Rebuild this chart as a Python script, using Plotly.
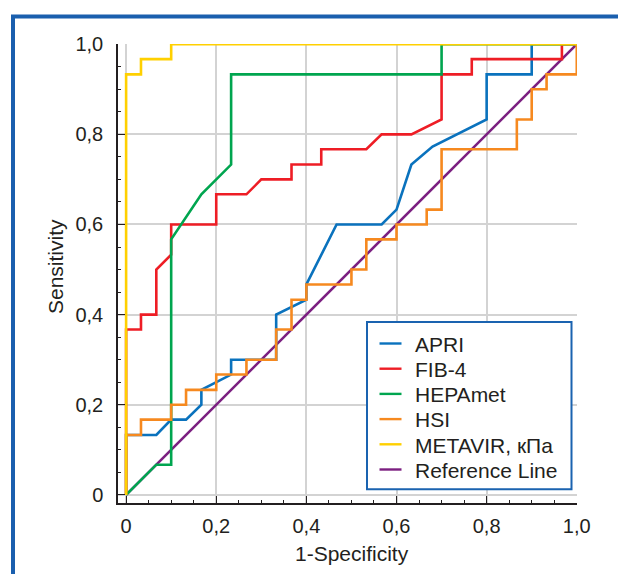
import plotly.graph_objects as go

# ---- data ----
apri_x = [0, 0, 0.067, 0.1, 0.133, 0.167, 0.167, 0.233, 0.233, 0.267, 0.333, 0.333, 0.4, 0.4, 0.467, 0.567, 0.6, 0.633, 0.68, 0.8, 0.8, 0.9, 0.9, 1.0]
apri_y = [0, 0.133, 0.133, 0.167, 0.167, 0.2, 0.233, 0.267, 0.3, 0.3, 0.3, 0.4, 0.433, 0.467, 0.6, 0.6, 0.633, 0.733, 0.773, 0.833, 0.933, 0.933, 1.0, 1.0]

fib4_x = [0, 0, 0.033, 0.033, 0.067, 0.067, 0.1, 0.1, 0.2, 0.2, 0.267, 0.3, 0.367, 0.367, 0.433, 0.433, 0.533, 0.567, 0.633, 0.7, 0.7, 0.767, 0.767, 0.967, 0.967, 1.0]
fib4_y = [0, 0.367, 0.367, 0.4, 0.4, 0.5, 0.533, 0.6, 0.6, 0.667, 0.667, 0.7, 0.7, 0.733, 0.733, 0.767, 0.767, 0.8, 0.8, 0.833, 0.933, 0.933, 0.967, 0.967, 1.0, 1.0]

hepamet_x = [0, 0.067, 0.1, 0.1, 0.167, 0.233, 0.233, 0.7, 0.7, 1.0]
hepamet_y = [0, 0.067, 0.067, 0.567, 0.667, 0.733, 0.933, 0.933, 1.0, 1.0]

hsi_x = [0, 0, 0.033, 0.033, 0.1, 0.1, 0.133, 0.133, 0.2, 0.2, 0.267, 0.267, 0.333, 0.333, 0.367, 0.367, 0.4, 0.4, 0.5, 0.5, 0.533, 0.533, 0.6, 0.6, 0.667, 0.667, 0.7, 0.7, 0.867, 0.867, 0.9, 0.9, 0.933, 0.933, 1.0, 1.0]
hsi_y = [0, 0.133, 0.133, 0.167, 0.167, 0.2, 0.2, 0.233, 0.233, 0.267, 0.267, 0.3, 0.3, 0.367, 0.367, 0.433, 0.433, 0.467, 0.467, 0.5, 0.5, 0.567, 0.567, 0.6, 0.6, 0.633, 0.633, 0.767, 0.767, 0.833, 0.833, 0.9, 0.9, 0.933, 0.933, 1.0]

metavir_x = [0, 0, 0.033, 0.033, 0.1, 0.1, 1.0]
metavir_y = [0, 0.933, 0.933, 0.967, 0.967, 1.0, 1.0]

ref_x = [0, 1]
ref_y = [0, 1]

tick_vals = [0, 0.2, 0.4, 0.6, 0.8, 1.0]
tick_text = ["0", "0,2", "0,4", "0,6", "0,8", "1,0"]

legend_names = ["APRI", "FIB-4", "HEPAmet", "HSI", "METAVIR, кПа", "Reference Line"]

colors = {
    "APRI": "#0a72bd",
    "FIB-4": "#ee1d25",
    "HEPAmet": "#00a54f",
    "HSI": "#f6891f",
    "METAVIR, кПа": "#ffd000",
    "Reference Line": "#7b1f80",
}

# drawing order (reference line underneath, METAVIR on top)
series = [
    ("Reference Line", ref_x, ref_y),
    ("APRI", apri_x, apri_y),
    ("FIB-4", fib4_x, fib4_y),
    ("HEPAmet", hepamet_x, hepamet_y),
    ("HSI", hsi_x, hsi_y),
    ("METAVIR, кПа", metavir_x, metavir_y),
]

FONT = "Liberation Sans, Arial, Helvetica, sans-serif"
TXT = "#231f20"
BLUE = "#1a5fae"

fig = go.Figure()
for name, xs, ys in series:
    fig.add_trace(go.Scatter(x=xs, y=ys, mode="lines", name=name,
                             line=dict(color=colors[name], width=2.6),
                             showlegend=False, hoverinfo="skip"))

W, H = 626, 574
OFF = 8  # page body margin
ML, MR, MT, MB = 110, 57, 36, 79
PW = W - ML - MR
PH = H - MT - MB

def px2x(px):
    return (px - OFF - ML) / PW

def py2y(py):
    return (H - MB - (py - OFF)) / PH

axis_common = dict(
    tickmode="array", tickvals=tick_vals, ticktext=tick_text,
    showgrid=True, gridcolor="#d3d3d3", gridwidth=1.5,
    zeroline=False, showline=True, linecolor=TXT, linewidth=1.5,
    ticks="inside", ticklen=7, tickwidth=1.2, tickcolor=TXT,
    tickfont=dict(family=FONT, size=20, color=TXT),
    minor=dict(tickmode="linear", tick0=0, dtick=0.05, ticks="inside",
               ticklen=3.5, tickwidth=1.2, tickcolor=TXT, showgrid=False),
    mirror=False, fixedrange=True,
)

fig.update_xaxes(range=[-0.018, 1.0005], ticklabelstandoff=4, **axis_common)
fig.update_yaxes(range=[-0.018, 1.0005], ticklabelstandoff=9, **axis_common)

annotations = [
    dict(text="1-Specificity", xref="paper", yref="paper",
         x=px2x(351.7), y=py2y(553), xanchor="center", yanchor="middle",
         showarrow=False, font=dict(family=FONT, size=21, color=TXT)),
    dict(text="Sensitivity", xref="paper", yref="paper",
         x=px2x(55), y=py2y(266), xanchor="center", yanchor="middle",
         textangle=-90, showarrow=False,
         font=dict(family=FONT, size=21, color=TXT)),
]

shapes = [
    # outer blue frame
    dict(type="rect", xref="paper", yref="paper",
         x0=px2x(13), x1=px2x(680), y0=py2y(640), y1=py2y(16.5),
         line=dict(color=BLUE, width=4), fillcolor="rgba(0,0,0,0)",
         layer="above"),
    # legend box
    dict(type="rect", xref="paper", yref="paper",
         x0=px2x(367), x1=px2x(571.5), y0=py2y(489.3), y1=py2y(322),
         line=dict(color="#1a63b0", width=2), fillcolor="white",
         layer="above"),
]

# legend entries
row0, row_step = 343.5, 25.2
for i, name in enumerate(legend_names):
    cy = row0 + i * row_step
    shapes.append(dict(type="line", xref="paper", yref="paper",
                       x0=px2x(379.5), x1=px2x(401.5), y0=py2y(cy), y1=py2y(cy),
                       line=dict(color=colors[name], width=2.4), layer="above"))
    annotations.append(dict(text=name, xref="paper", yref="paper",
                            x=px2x(412.5), y=py2y(cy + 0.8), xanchor="left",
                            yanchor="middle", showarrow=False,
                            font=dict(family=FONT, size=21, color=TXT)))

fig.update_layout(
    width=W, height=H,
    margin=dict(l=ML, r=MR, t=MT, b=MB, pad=0),
    paper_bgcolor="white", plot_bgcolor="white",
    font=dict(family=FONT, color=TXT, size=20),
    showlegend=False,
    annotations=annotations,
    shapes=shapes,
)

fig.write_html("out.html")
